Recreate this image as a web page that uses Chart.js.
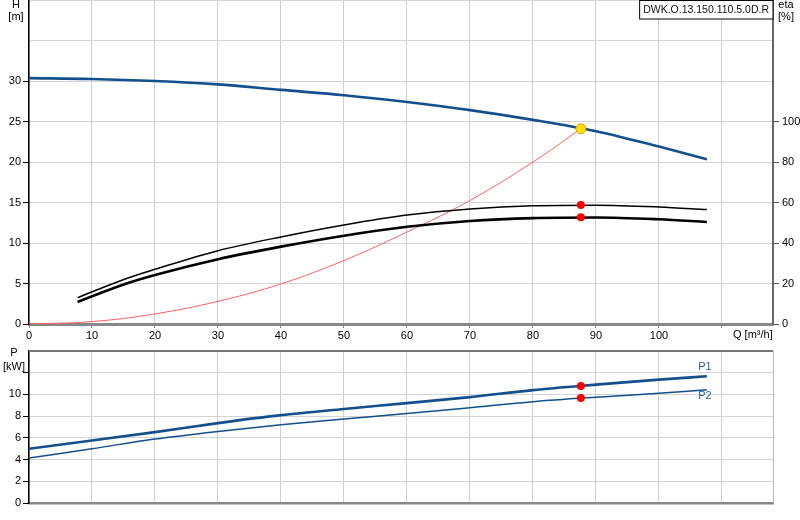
<!DOCTYPE html>
<html>
<head>
<meta charset="utf-8">
<script src="https://cdn.jsdelivr.net/npm/chart.js@4"></script>
<style>
  body { margin: 0; background: #fff; overflow: hidden; }
  canvas { position: absolute; left: 0; }
  #top { top: 0; }
  #bottom { top: 345px; }
</style>
</head>
<body>
<canvas id="top" width="800" height="362"></canvas>
<canvas id="bottom" width="800" height="175"></canvas>
<script>
// pump curve H(Q)
const qH = [0, 10, 20, 30, 40, 50, 60, 70, 80, 90, 100, 107.6];
const hH = [30.35, 30.25, 30.0, 29.58, 28.9, 28.25, 27.4, 26.4, 25.2, 23.8, 21.9, 20.35];

// efficiency curves (eta %)
const qEta = [7.7, 15.6, 20, 30, 40, 50, 60, 70, 80, 90, 100, 107.6];
const eta1 = [13.0, 22.6, 27.0, 36.2, 43.0, 48.9, 53.8, 56.8, 58.4, 58.7, 57.8, 56.5];
const eta2 = [10.9, 20.1, 24.2, 32.0, 38.2, 43.6, 48.0, 50.9, 52.3, 52.6, 51.7, 50.4];

// system curve
const qSys = [0, 10, 20, 30, 40, 50, 60, 70, 80, 87.6];
const hSys = [0, 0.3, 1.25, 2.8, 4.95, 7.85, 11.35, 15.25, 20.0, 24.1];

// power curves
const qP = [0, 10, 20, 30, 40, 50, 60, 70, 80, 90, 100, 107.6];
const p1 = [5.0, 5.76, 6.53, 7.36, 8.09, 8.66, 9.2, 9.75, 10.4, 10.9, 11.36, 11.67];
const p2 = [4.15, 5.0, 5.89, 6.59, 7.2, 7.73, 8.24, 8.78, 9.33, 9.74, 10.1, 10.44];

// duty point
const qDuty = 87.6;
const hDuty = 24.1;
const etaDuty = [58.8, 52.7];
const pDuty = [10.78, 9.67];

const pumpName = 'DWK.O.13.150.110.5.0D.R';
const qMax = 118.1;

const FONT = '"Liberation Sans", Arial, sans-serif';
const BLUE = '#134f8c';
const TOP_CANVAS_H = 362;   // must match the canvas height
const TOP_PLOT_BOTTOM = 324; // page y of the Q axis

function pts(xs, ys) {
  return xs.map((x, i) => ({ x: x, y: ys[i] }));
}

Chart.defaults.font.family = FONT;
Chart.defaults.font.size = 11;
Chart.defaults.color = '#000';

// free texts are placed relative to the top of the plot area
const textPlugin = {
  id: 'texts',
  afterDraw(chart, args, opts) {
    const c = chart.ctx;
    const a = chart.chartArea;
    c.save();
    c.font = '11px ' + FONT;
    c.textBaseline = 'middle';
    (opts.items || []).forEach(t => {
      const p = typeof t.pos === 'function' ? t.pos(chart) : [t.pos[0], t.pos[1] + a.top];
      c.fillStyle = t.color || '#000';
      c.textAlign = t.align || 'center';
      c.fillText(t.text, p[0], p[1]);
    });
    if (opts.box) {
      c.font = '10.5px ' + FONT;
      const w = c.measureText(opts.box).width + 8;
      const x = a.right - w;
      c.fillStyle = '#fff';
      c.fillRect(x, a.top, w, 19);
      c.strokeStyle = '#000';
      c.lineWidth = 1;
      c.strokeRect(x + 0.5, a.top + 0.5, w - 0.5, 18.5);
      c.fillStyle = '#111';
      c.textAlign = 'left';
      c.fillText(opts.box, x + 4, a.top + 10);
    }
    if (opts.frame) {
      c.strokeStyle = '#777';
      c.lineWidth = 2;
      c.beginPath();
      c.moveTo(a.left, a.top);
      c.lineTo(a.right, a.top);
      c.stroke();
      c.strokeStyle = '#bbb';
      c.lineWidth = 1;
      c.beginPath();
      c.moveTo(a.right + 0.5, a.top);
      c.lineTo(a.right + 0.5, a.bottom);
      c.stroke();
    }
    c.restore();
  }
};

let topShift = 0;

const xScale = (showLabels) => ({
  type: 'linear',
  min: 0,
  max: qMax,
  ticks: {
    stepSize: 10,
    includeBounds: false,
    display: showLabels,
    padding: 1,
    callback: v => (v <= 100 ? v : '')
  },
  grid: {
    color: '#cfcfcf',
    tickColor: '#888',
    tickLength: 4,
    drawTicks: showLabels
  },
  border: { color: '#888', width: showLabels ? 3 : 2.5 },
  afterFit: s => { s.height = showLabels ? TOP_CANVAS_H - TOP_PLOT_BOTTOM - topShift : 17; }
});

const yFit = w => s => { s.width = w; s.paddingTop = 0; s.paddingBottom = 0; };

// ---------- top chart: H and eta ----------
// datasets listed first are drawn on top
const topChart = new Chart(document.getElementById('top').getContext('2d'), {
  type: 'line',
  data: {
    datasets: [
      {
        data: pts([qDuty], [hDuty]), yAxisID: 'y', showLine: false,
        pointRadius: 5, pointBackgroundColor: '#ffe000', pointBorderColor: '#e89a00', pointBorderWidth: 1
      },
      {
        data: pts([qDuty, qDuty], etaDuty), yAxisID: 'eta', showLine: false,
        pointRadius: 4, pointBackgroundColor: '#ff0000', pointBorderColor: '#ff0000', pointBorderWidth: 0
      },
      {
        data: pts(qH, hH), yAxisID: 'y',
        borderColor: BLUE, borderWidth: 2.6, pointRadius: 0, cubicInterpolationMode: 'monotone'
      },
      {
        data: pts(qEta, eta2), yAxisID: 'eta',
        borderColor: '#000', borderWidth: 2.6, pointRadius: 0, cubicInterpolationMode: 'monotone'
      },
      {
        data: pts(qEta, eta1), yAxisID: 'eta',
        borderColor: '#000', borderWidth: 1.5, pointRadius: 0, cubicInterpolationMode: 'monotone'
      },
      {
        data: pts(qSys, hSys), yAxisID: 'y',
        borderColor: '#ff6262', borderWidth: 1, pointRadius: 0, tension: 0.4
      }
    ]
  },
  options: {
    responsive: false,
    animation: false,
    layout: { padding: 0 },
    plugins: {
      legend: { display: false },
      tooltip: { enabled: false },
      texts: {
        box: pumpName,
        items: [
          { text: 'H', pos: [16, 5] },
          { text: '[m]', pos: [16, 17] },
          { text: 'eta', pos: [786, 5] },
          { text: '[%]', pos: [786, 17] },
          { text: 'Q [m³/h]', align: 'left', pos: ch => [ch.scales.x.getPixelForValue(110) + 11, ch.chartArea.bottom + 11] }
        ]
      }
    },
    scales: {
      x: xScale(true),
      y: {
        type: 'linear', position: 'left', min: 0, max: 40,
        ticks: { stepSize: 5, padding: 2, callback: v => (v <= 30 ? v : '') },
        grid: {
          color: '#d4d4d4', tickLength: 6,
          tickColor: c => (c.tick && c.tick.value <= 30 ? '#000' : 'rgba(0,0,0,0)')
        },
        border: { color: '#000', width: 1.5 },
        afterFit: yFit(29)
      },
      eta: {
        type: 'linear', position: 'right', min: 0, max: 160,
        ticks: { stepSize: 20, padding: 3, callback: v => (v <= 100 ? v : '') },
        grid: {
          drawOnChartArea: false, tickLength: 6,
          tickColor: c => (c.tick && c.tick.value <= 100 ? '#555' : 'rgba(0,0,0,0)')
        },
        border: { color: '#666', width: 2 },
        afterFit: yFit(27)
      }
    }
  },
  plugins: [textPlugin]
});
// shift the top canvas so that its plot area starts at the page top,
// and size the Q axis so the plot ends at the wanted height
topShift = topChart.chartArea.top;
topChart.update();
topShift = topChart.chartArea.top;
topChart.update();
document.getElementById('top').style.top = (-topShift) + 'px';

// ---------- bottom chart: P ----------
new Chart(document.getElementById('bottom').getContext('2d'), {
  type: 'line',
  data: {
    datasets: [
      {
        data: pts([qDuty, qDuty], pDuty), showLine: false,
        pointRadius: 4, pointBackgroundColor: '#ff0000', pointBorderColor: '#ff0000', pointBorderWidth: 0
      },
      {
        data: pts(qP, p1), borderColor: BLUE, borderWidth: 2.6,
        pointRadius: 0, cubicInterpolationMode: 'monotone'
      },
      {
        data: pts(qP, p2), borderColor: BLUE, borderWidth: 1.5,
        pointRadius: 0, cubicInterpolationMode: 'monotone'
      }
    ]
  },
  options: {
    responsive: false,
    animation: false,
    layout: { padding: { top: 6, right: 27, left: 0, bottom: 0 } },
    plugins: {
      legend: { display: false },
      tooltip: { enabled: false },
      texts: {
        frame: true,
        items: [
          { text: 'P', pos: [14, 2] },
          { text: '[kW]', pos: [14, 16] },
          { text: 'P1', color: '#1f5f9f', pos: ch => [ch.scales.x.getPixelForValue(qP[qP.length - 1]) - 2, ch.scales.y.getPixelForValue(p1[p1.length - 1]) - 9] },
          { text: 'P2', color: '#1f5f9f', pos: ch => [ch.scales.x.getPixelForValue(qP[qP.length - 1]) - 2, ch.scales.y.getPixelForValue(p2[p2.length - 1]) + 6] }
        ]
      }
    },
    scales: {
      x: xScale(false),
      y: {
        type: 'linear', position: 'left', min: 0, max: 14,
        ticks: { stepSize: 2, padding: 2, callback: v => (v <= 10 ? v : '') },
        grid: {
          color: '#d4d4d4', tickLength: 6,
          tickColor: c => (c.tick && c.tick.value <= 12 ? '#000' : 'rgba(0,0,0,0)')
        },
        border: { color: '#000', width: 1.5 },
        afterFit: yFit(29)
      }
    }
  },
  plugins: [textPlugin]
});
</script>
</body>
</html>
